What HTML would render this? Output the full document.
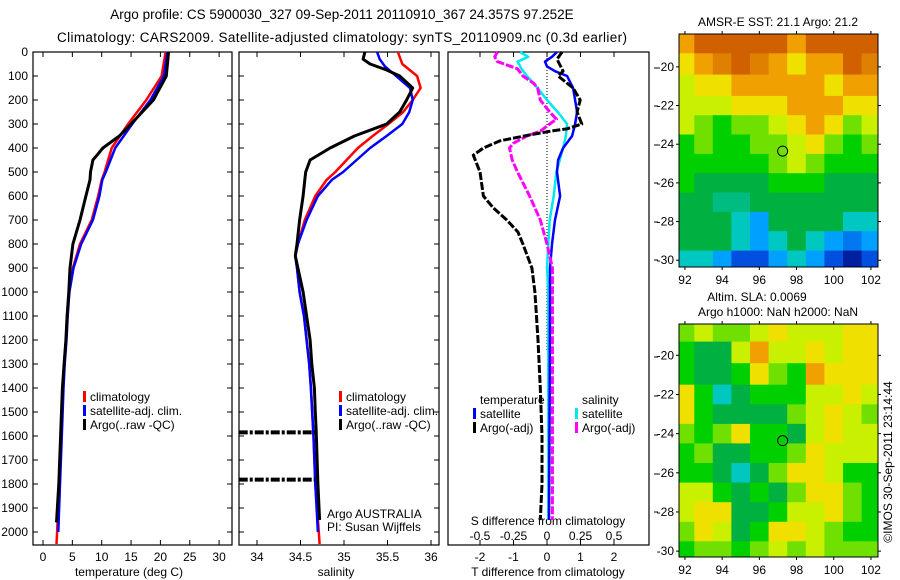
<!DOCTYPE html>
<html><head><meta charset="utf-8">
<style>
html,body{margin:0;padding:0;background:#fff;}
svg{display:block;font-family:"Liberation Sans",sans-serif;}
text{fill:#000;}
</style></head>
<body>
<svg id="fig" width="900" height="580" viewBox="0 0 900 580" xmlns="http://www.w3.org/2000/svg"></svg>
<script>
// ---------- DATA ----------
const depthTicks = [0,100,200,300,400,500,600,700,800,900,1000,1100,1200,1300,1400,1500,1600,1700,1800,1900,2000];
const tempTicks = [0,5,10,15,20,25,30];
const salTicks = [34,34.5,35,35.5,36];
const tdiffTicks = [-2,-1,0,1,2];
const sdiffTicks = [-0.5,-0.25,0,0.25,0.5];
const sdiffTickLabels = ['-0.5','-0.25','0','0.25','0.5'];

const tClimDepth = [0,100,200,300,400,500,533,600,700,800,900,1000,1100,1200,1300,1400,1600,1800,2000,2050];
const tClim      = [20.9,20.2,17.6,14.5,11.7,10.5,10.0,9.4,8.3,6.3,5.1,4.4,4.1,3.9,3.6,3.4,3.1,2.8,2.4,2.3];
const tSatDepth  = [0,100,200,300,400,500,533,600,700,800,900,1000,1100,1200,1300,1400,1600,1800,2000];
const tSat       = [21.2,20.6,18.3,15.2,12.3,10.7,10.1,9.6,8.5,6.5,5.2,4.5,4.2,4.0,3.7,3.5,3.2,2.9,2.6];
const tArgoDepth = [0,100,200,300,350,400,430,450,500,533,600,700,800,900,1000,1100,1200,1300,1400,1600,1800,1960];
const tArgo      = [21.4,21.0,18.8,15.0,13.0,10.2,9.2,8.5,8.1,8.0,7.3,6.3,5.1,4.6,4.4,4.1,3.9,3.6,3.3,3.0,2.7,2.3];

const sClimDepth = [0,50,100,150,200,250,300,350,400,500,533,600,700,800,850,900,1000,1100,1200,1300,1400,1600,1800,2000,2050];
const sClim      = [35.62,35.67,35.84,35.88,35.79,35.68,35.51,35.33,35.16,34.9,34.8,34.67,34.55,34.47,34.44,34.46,34.49,34.54,34.57,34.6,34.62,34.65,34.67,34.71,34.72];
const sSatDepth  = [0,30,60,100,150,200,250,300,350,400,500,533,600,700,800,850,900,1000,1100,1200,1300,1400,1600,1800,2000];
const sSat       = [35.38,35.41,35.47,35.6,35.76,35.79,35.75,35.67,35.49,35.3,34.99,34.86,34.7,34.57,34.47,34.44,34.46,34.49,34.54,34.57,34.6,34.62,34.65,34.67,34.7];
const sArgoDepth = [0,30,50,75,100,150,200,250,300,350,400,450,500,533,600,700,800,850,900,1000,1100,1200,1300,1400,1500,1580,1800,1950];
const sArgo      = [35.24,35.22,35.3,35.49,35.64,35.79,35.72,35.64,35.49,35.12,34.84,34.61,34.56,34.55,34.53,34.49,34.46,34.44,34.47,34.53,34.57,34.61,34.63,34.66,34.67,34.68,34.7,34.72];
const spikeDepths = [1585,1782];
const spikeSal    = [33.79,33.79];

const dTArgoDepth = [0,30,80,100,150,200,250,300,320,330,345,370,400,430,500,600,650,700,750,800,900,1000,1200,1400,1600,1800,1950];
const dTArgo      = [0.45,0.3,0.48,0.33,0.78,0.99,0.9,1.04,0.6,0.1,-0.5,-1.4,-1.9,-2.2,-2.0,-1.9,-1.6,-1.2,-0.87,-0.72,-0.45,-0.36,-0.27,-0.2,-0.15,-0.15,-0.2];
const dTSatDepth  = [0,20,40,60,80,100,150,200,250,300,350,400,450,500,600,700,800,900,1000,1400,1950];
const dTSat       = [0.3,0.15,-0.06,0.0,0.24,0.6,0.78,0.84,0.9,0.84,0.75,0.48,0.33,0.3,0.39,0.24,0.15,0.09,0.09,0.08,0.06];
const dSArgoDepth = [0,20,40,70,100,130,150,200,250,280,300,330,350,380,400,450,500,600,700,800,900,1000,1400,1950];
const dSArgo      = [-0.37,-0.39,-0.37,-0.22,-0.18,-0.1,-0.07,-0.05,0.02,0.07,0.02,-0.05,-0.15,-0.25,-0.28,-0.26,-0.22,-0.13,-0.05,0.0,0.04,0.04,0.04,0.04];
const dSSatDepth  = [0,20,40,70,100,150,200,250,300,350,400,500,600,700,800,900,1000,1400,1950];
const dSSat       = [-0.2,-0.14,-0.22,-0.19,-0.15,-0.07,0.0,0.08,0.15,0.14,0.12,0.07,0.05,0.02,0.01,0.0,0.01,0.01,0.01];

const mapLons = [92,93,94,95,96,97,98,99,100,101,102];
const mapLats = [-18.8,-19.8,-21,-22,-23,-24,-25,-26,-27,-28,-29,-30];
const sstGrid = [
 [9,10,10,10,10,10,9,10,10,10,10],
 [8,9,9.5,10,9.5,9,8,9,9,10,9.5],
 [7,8,8,9,9,9,9,9,8,9,9],
 [7,7,7,8,8,8,9,9,9,8,8],
 [7,6,5,6,6,7,8,9,8,6,7],
 [5,6,5,5,6,6,7,8,6,5,6],
 [5,5,5,5,5,6,7,6,5,5,5],
 [5,4,4,4,4,5,5,5,4,4,4],
 [4,4,3.5,3.5,4,4,4,4,4,4,4],
 [4,4,4,3,2,4,4,4,4,3,3],
 [4,4,4,3,2,3,4,3,2,1.5,2],
 [3,3,2,1,1,2,3,2,1,0,1]];
const slaGrid = [
 [6,7,6,6,7,8,7,7,7,8,8],
 [5,4,4,7,9,7,7,8,7,8,8],
 [5,4,4,5,8,6,5,9,8,8,8],
 [8,5,3,4,5,5,5,7,7,8,7],
 [8,5,4,4,4,4,6,7,8,7,6],
 [6,5,6,8,5,5,4,7,8,7,7],
 [5,6,4,4,5,5,6,8,7,7,7],
 [5,5,4,3,4,6,8,8,7,5,5],
 [7,7,5,4,5,4,6,8,8,6,5],
 [7,8,8,4,4,5,7,7,8,6,5],
 [6,8,7,4,5,8,8,7,6,5,5],
 [5,6,6,5,6,7,6,7,6,6,6]];
const argoLon = 97.252, argoLat = -24.357;
const mapLatTicks = [-20,-22,-24,-26,-28,-30];
const mapLonTicks = [92,94,96,98,100,102];

// ---------- HELPERS ----------
const NS = 'http://www.w3.org/2000/svg';
const svg = document.getElementById('fig');
function mk(tag, attrs, parent){ const e=document.createElementNS(NS,tag); for(const k in attrs) e.setAttribute(k,attrs[k]); (parent||svg).appendChild(e); return e; }
function txt(x,y,s,anchor,size,parent){ const t=mk('text',{x:x,y:y,'text-anchor':anchor||'start','font-size':size||12},parent); t.textContent=s; return t; }

const Y0=52, PXM=0.24, YB=545;
const yD = d => Y0 + d*PXM;
const xT = v => 43 + v*5.87;
const xS = v => 257 + (v-34)*87;
const xDT = v => 547 + v*33.5;
const xDS = v => 547 + v*134;

function line(xs, ds, xf, color, w, dash, name){
  const pts = ds.map((d,i)=> xf(xs[i]).toFixed(1)+','+yD(d).toFixed(1)).join(' ');
  const p = mk('polyline',{points:pts,fill:'none',stroke:color,'stroke-width':w,'stroke-linejoin':'round'});
  if(dash) p.setAttribute('stroke-dasharray',dash);
  
  
  return p;
}

// ---------- TITLE ----------
const t1 = txt(342,19,'Argo profile: CS 5900030_327 09-Sep-2011 20110910_367 24.357S 97.252E','middle',13.5);


const t2 = txt(342,42,'Climatology: CARS2009. Satellite-adjusted climatology: synTS_20110909.nc (0.3d earlier)','middle',13.5);


t2.setAttribute('textLength','570');

// ---------- PANELS ----------
function panelBox(x0,x1,name){
  const g = mk('g',{});
  
  
  mk('rect',{x:x0,y:Y0,width:x1-x0,height:YB-Y0,fill:'none',stroke:'#000','stroke-width':1.2},g);
  return g;
}
// panel 1
const p1 = panelBox(33,232,'temperature-panel');
depthTicks.forEach(d=>{
  mk('line',{x1:33,y1:yD(d),x2:38,y2:yD(d),stroke:'#000'},p1);
  mk('line',{x1:227,y1:yD(d),x2:232,y2:yD(d),stroke:'#000'},p1);
  const l = txt(28,yD(d)+4,String(d),'end',12,p1);
  
  
});
tempTicks.forEach(v=>{
  mk('line',{x1:xT(v),y1:YB,x2:xT(v),y2:YB-5,stroke:'#000'},p1);
  mk('line',{x1:xT(v),y1:Y0,x2:xT(v),y2:Y0+5,stroke:'#000'},p1);
  const l = txt(xT(v),561,String(v),'middle',12,p1);
  
  
});
const xl1 = txt(129,576,'temperature (deg C)','middle',12);


line(tClim,tClimDepth,xT,'#ff0000',2.5,null,'temp-climatology-line');
line(tSat,tSatDepth,xT,'#0000ff',2.5,null,'temp-satellite-line');
line(tArgo,tArgoDepth,xT,'#000000',3,null,'temp-argo-line');

function legend(x,y,items,parent,name){
  const g = mk('g',{},parent);
  
  
  items.forEach((it,i)=>{
    if(it[0]) mk('rect',{x:x,y:y+i*14-10,width:3,height:11,fill:it[0]},g);
    txt(x+7,y+i*14,it[1],'start',12,g);
  });
}
legend(83,401,[['#ff0000','climatology'],['#0000ff','satellite-adj. clim.'],['#000','Argo(..raw -QC)']],svg,'temperature-legend');

// panel 2
const p2 = panelBox(239,439,'salinity-panel');
depthTicks.forEach(d=>{
  mk('line',{x1:239,y1:yD(d),x2:244,y2:yD(d),stroke:'#000'},p2);
  mk('line',{x1:434,y1:yD(d),x2:439,y2:yD(d),stroke:'#000'},p2);
});
salTicks.forEach(v=>{
  mk('line',{x1:xS(v),y1:YB,x2:xS(v),y2:YB-5,stroke:'#000'},p2);
  mk('line',{x1:xS(v),y1:Y0,x2:xS(v),y2:Y0+5,stroke:'#000'},p2);
  const l = txt(xS(v),561,String(v),'middle',12,p2);
  
  
});
const xl2 = txt(336,576,'salinity','middle',12);


line(sClim,sClimDepth,xS,'#ff0000',2.5,null,'sal-climatology-line');
line(sSat,sSatDepth,xS,'#0000ff',2.5,null,'sal-satellite-line');
line(sArgo,sArgoDepth,xS,'#000000',3,null,'sal-argo-line');
spikeDepths.forEach((d,i)=>{
  const r = mk('line',{x1:xS(spikeSal[i]),y1:yD(d),x2:xS(34.67),y2:yD(d),stroke:'#000','stroke-width':4,'stroke-dasharray':'9,2,3,2'});
  
  
});
legend(339,401,[['#ff0000','climatology'],['#0000ff','satellite-adj. clim.'],['#000','Argo(..raw -QC)']],svg,'salinity-legend');
const pi1 = txt(327,518,'Argo AUSTRALIA','start',12);


const pi2 = txt(327,531,'PI: Susan Wijffels','start',12);



// panel 3
const p3 = panelBox(448,649,'difference-panel');
tdiffTicks.forEach(v=>{
  mk('line',{x1:xDT(v),y1:YB,x2:xDT(v),y2:YB-5,stroke:'#000'},p3);
  mk('line',{x1:xDT(v),y1:Y0,x2:xDT(v),y2:Y0+5,stroke:'#000'},p3);
  const l = txt(xDT(v),561,String(v),'middle',12,p3);
  
  
});
sdiffTicks.forEach((v,i)=>{
  const l = txt(xDS(v),540,sdiffTickLabels[i],'middle',12,p3);
  
  
});
[68,106,145,183,222,260,357,396,435,474,512].forEach(y=>{ mk('line',{x1:654,y1:y,x2:658,y2:y,stroke:'#000'},p3); });
const sdl = txt(548,525,'S difference from climatology','middle',12);


const tdl = txt(548,576,'T difference from climatology','middle',12);


const zl = mk('line',{x1:xDT(0),y1:Y0,x2:xDT(0),y2:yD(1250),stroke:'#000','stroke-width':1,'stroke-dasharray':'1,2'});


line(dSSat,dSSatDepth,xDS,'#00e8f0',2.5,null,'sdiff-satellite-line');
line(dTSat,dTSatDepth,xDT,'#0000ff',2.5,null,'tdiff-satellite-line');
line(dSArgo,dSArgoDepth,xDS,'#ff00ff',3,'8,2','sdiff-argo-line');
line(dTArgo,dTArgoDepth,xDT,'#000000',3,'8,2','tdiff-argo-line');
legend(473,404,[[null,'temperature'],['#0000ff','satellite'],['#000','Argo(-adj)']],svg,'tdiff-legend');
legend(575,404,[[null,'salinity'],['#00e8f0','satellite'],['#ff00ff','Argo(-adj)']],svg,'sdiff-legend');

// ---------- MAPS ----------
const cmapStops = [[0,[0,32,160]],[1,[0,80,224]],[2,[0,160,255]],[3,[0,200,192]],[4,[0,176,64]],[5,[0,208,0]],[6,[112,224,0]],[7,[200,240,0]],[8,[240,224,0]],[9,[240,160,0]],[10,[208,96,0]]];
function cmap(v){
  for(let i=0;i<cmapStops.length-1;i++){
    const a=cmapStops[i], b=cmapStops[i+1];
    if(v<=b[0]){ const f=Math.max(0,(v-a[0])/(b[0]-a[0])); const c=a[1].map((x,j)=>Math.round(x+(b[1][j]-x)*f)); return 'rgb('+c.join(',')+')'; }
  }
  return 'rgb(208,96,0)';
}
function drawMap(grid, top, bottom, latTop, latBot, name){
  const x0=679, x1=878, lonL=91.68, lonR=102.38;
  const xL = lon => x0 + (lon-lonL)*(x1-x0)/(lonR-lonL);
  const yL = lat => top + (latTop-lat)*(bottom-top)/(latTop-latBot);
  const g = mk('g',{});
  
  
  const clip = mk('clipPath',{id:name+'-clip'},g);
  mk('rect',{x:x0,y:top,width:x1-x0,height:bottom-top},clip);
  const cg = mk('g',{'clip-path':'url(#'+name+'-clip)'},g);
  mapLats.forEach((lat,r)=>{
    const yTop = r===0 ? top : yL((mapLats[r-1]+lat)/2);
    const yBot = r===mapLats.length-1 ? bottom : yL((mapLats[r+1]+lat)/2);
    mapLons.forEach((lon,c)=>{
      const xa = c===0 ? x0 : xL(lon-0.5), xb = c===mapLons.length-1 ? x1 : xL(lon+0.5);
      const cell = mk('rect',{x:xa.toFixed(1),y:yTop.toFixed(1),width:(xb-xa+0.6).toFixed(1),height:(yBot-yTop+0.6).toFixed(1),fill:cmap(grid[r][c])},cg);
      
      
    });
  });
  mk('rect',{x:x0,y:top,width:x1-x0,height:bottom-top,fill:'none',stroke:'#000','stroke-width':1},g);
  const circ = mk('circle',{cx:xL(argoLon),cy:yL(argoLat),r:5,fill:'none',stroke:'#000','stroke-width':1},g);
  
  
  mapLatTicks.forEach(v=>{
    mk('line',{x1:x0-3,y1:yL(v),x2:x0,y2:yL(v),stroke:'#000'},g);
    mk('line',{x1:x1,y1:yL(v),x2:x1+3,y2:yL(v),stroke:'#000'},g);
    txt(674,yL(v)+4,String(v),'end',12,g);
  });
  mapLonTicks.forEach(v=>{
    mk('line',{x1:xL(v),y1:bottom,x2:xL(v),y2:bottom+3,stroke:'#000'},g);
    mk('line',{x1:xL(v),y1:top-3,x2:xL(v),y2:top,stroke:'#000'},g);
    txt(xL(v),bottom+17,String(v),'middle',12,g);
  });
}
drawMap(sstGrid,34,267,-18.3,-30.35,'sst-map');
drawMap(slaGrid,324,557,-18.4,-30.3,'sla-map');
const mt1 = txt(778,26,'AMSR-E SST: 21.1 Argo: 21.2','middle',12);


const mt2 = txt(757,301,'Altim. SLA: 0.0069','middle',12);


const mt3 = txt(778,316,'Argo h1000: NaN h2000: NaN','middle',12);


const cr = txt(0,0,'©IMOS 30-Sep-2011 23:14:44','middle',12);
cr.setAttribute('transform','translate(892,462) rotate(-90)');


</script>
</body></html>
